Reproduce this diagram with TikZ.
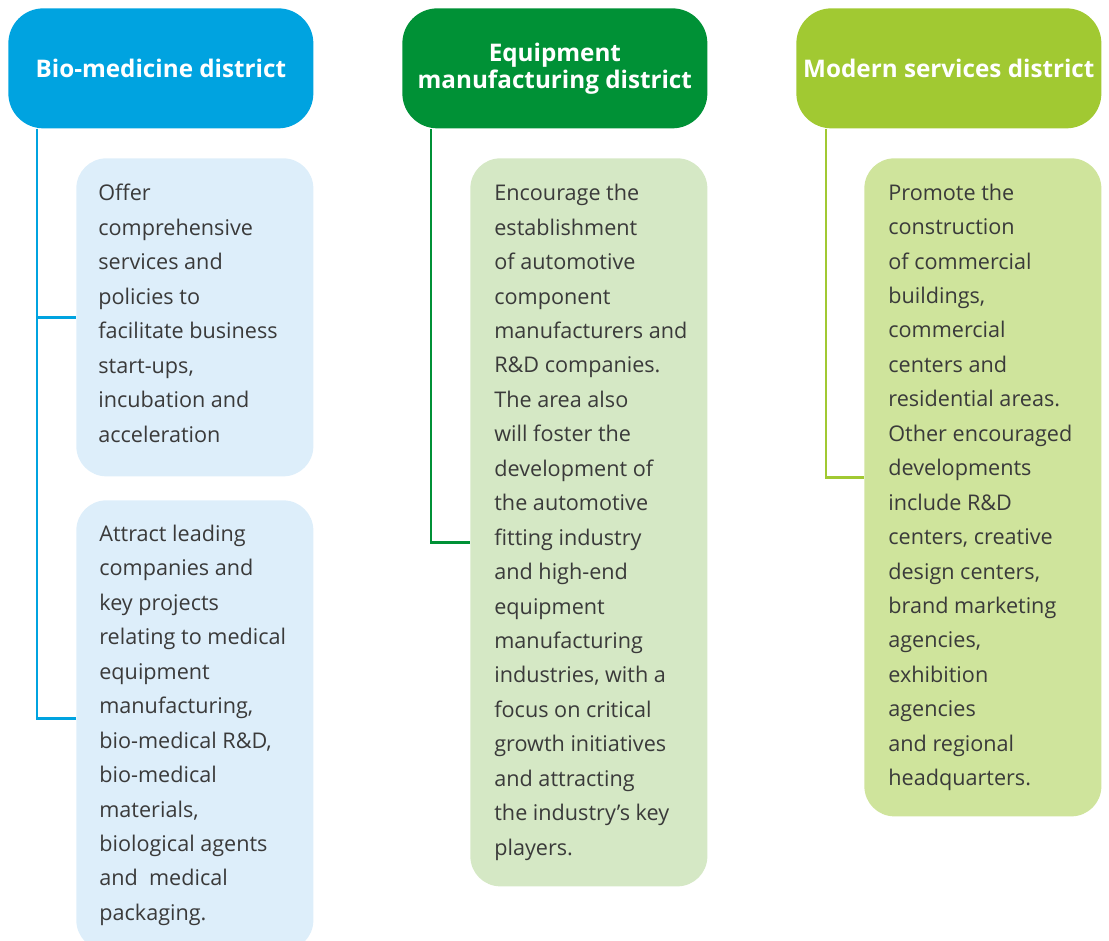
\documentclass[tikz,border=0pt]{standalone}
\usepackage{fontspec}
\setmainfont{Open Sans}
\usetikzlibrary{positioning}
\definecolor{bioblue}{RGB}{0,163,224}
\definecolor{biofill}{RGB}{221,238,250}
\definecolor{eqgreen}{RGB}{0,145,54}
\definecolor{eqfill}{RGB}{213,232,197}
\definecolor{svgreen}{RGB}{161,201,50}
\definecolor{svfill}{RGB}{207,228,156}
\definecolor{bodytext}{RGB}{58,58,58}

\begin{document}
\begin{tikzpicture}[
    head/.style={rounded corners=0.7cm, minimum width=6.1cm, minimum height=2.4cm,
        anchor=north west, inner sep=0pt, align=center, text=white,
        font=\bfseries\fontsize{13.8}{15.3}\selectfont},
    info/.style={rounded corners=0.6cm, minimum width=4.74cm, anchor=north west, inner sep=0pt},
    body/.style={anchor=west, inner sep=0pt, align=left, text=bodytext,
        font=\fontsize{12.3}{19.6}\selectfont},
    link/.style={line width=1.6pt}
]
    \useasboundingbox (0,0) rectangle (22.18,-18.8);

    \node (hdrA) at (0.16,-0.16) [head, fill=bioblue] {Bio-medicine district};
    \node (hdrB) at (8.04,-0.16) [head, fill=eqgreen] {Equipment\\manufacturing district};
    \node (hdrC) at (15.92,-0.16) [head, fill=svgreen] {Modern services district};

    \node (bioA) at (1.52,-3.16) [info, fill=biofill, minimum height=6.36cm] {};
    \node (bioB) at (1.52,-10.0) [info, fill=biofill, minimum height=9.0cm] {};
    \node (eqA) at (9.4,-3.16) [info, fill=eqfill, minimum height=14.56cm] {};
    \node (svA) at (17.28,-3.16) [info, fill=svfill, minimum height=13.16cm] {};

    \node (bioAtext) [body, right=0.44cm of bioA.west, yshift=0.08cm] {Offer\\comprehensive\\services and\\policies to\\facilitate business\\start-ups,\\incubation and\\acceleration};
    \node (bioBtext) [body, right=0.46cm of bioB.west] {Attract leading\\companies and\\key projects\\relating to medical\\equipment\\manufacturing,\\bio-medical R\&D,\\bio-medical\\materials,\\biological agents\\and~~medical\\packaging.};
    \node (eqAtext) [body, right=0.48cm of eqA.west] {Encourage the\\establishment\\of automotive\\component\\manufacturers and\\R\&D companies.\\The area also\\will foster the\\development of\\the automotive\\fitting industry\\and high-end\\equipment\\manufacturing\\industries, with a\\focus on critical\\growth initiatives\\and attracting\\the industry's key\\players.};
    \node (svAtext) [body, right=0.48cm of svA.west] {Promote the\\construction\\of commercial\\buildings,\\commercial\\centers and\\residential areas.\\Other encouraged\\developments\\include R\&D\\centers, creative\\design centers,\\brand marketing\\agencies,\\exhibition\\agencies\\and regional\\headquarters.};

    \draw [link, bioblue] ([xshift=0.58cm]hdrA.south west) |- (bioA.west);
    \draw [link, bioblue] ([xshift=0.58cm]hdrA.south west) |- ([yshift=0.14cm]bioB.west);
    \draw [link, eqgreen] ([xshift=0.58cm]hdrB.south west) |- ([yshift=-0.4cm]eqA.west);
    \draw [link, svgreen] ([xshift=0.6cm]hdrC.south west) |- ([yshift=0.2cm]svA.west);
\end{tikzpicture}
\end{document}
